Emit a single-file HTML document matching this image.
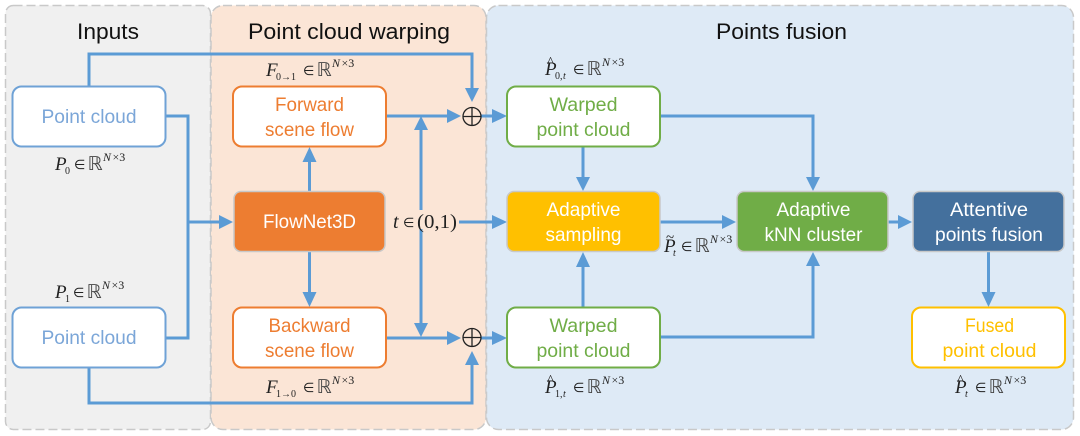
<!DOCTYPE html>
<html>
<head>
<meta charset="utf-8">
<style>
html,body{margin:0;padding:0;background:#fff;width:1080px;height:436px;overflow:hidden}
svg{display:block}
.t{font-family:"Liberation Sans",sans-serif;text-anchor:middle}
.title{font-size:22px;fill:#111}
.lab{font-size:19.5px}
.m{font-family:"Liberation Serif",serif;fill:#222}
.i{font-style:italic}
.l{stroke:#5b9bd5;stroke-width:3;fill:none}
.a{fill:#5b9bd5}
</style>
</head>
<body>
<svg width="1080" height="436" viewBox="0 0 1080 436" xmlns="http://www.w3.org/2000/svg">
<defs>
<g id="elem">
<text class="m" font-size="13" x="0" y="-1">∈</text>
<text font-family="DejaVu Sans,sans-serif" font-size="19" fill="#444" x="13.500" y="0">ℝ</text>
<text class="m i" font-size="12" x="29" y="-9">N</text>
<text class="m" font-size="12" x="38.500" y="-9">×3</text>
</g>
</defs>

<!-- panels -->
<rect x="5.5" y="5.5" width="205" height="424" rx="8" fill="#f0f0f0" stroke="#c9c9c9" stroke-width="1.5" stroke-dasharray="9 4"/>
<rect x="211" y="5.5" width="275" height="424" rx="12" fill="#fbe5d6" stroke="#c9c9c9" stroke-width="1.5" stroke-dasharray="9 4"/>
<rect x="486.5" y="5.5" width="587" height="424" rx="12" fill="#deeaf6" stroke="#c9c9c9" stroke-width="1.5" stroke-dasharray="9 4"/>

<!-- titles -->
<text class="t title" x="108" y="39" textLength="62" lengthAdjust="spacingAndGlyphs">Inputs</text>
<text class="t title" x="349" y="39" textLength="202" lengthAdjust="spacingAndGlyphs">Point cloud warping</text>
<text class="t title" x="781.5" y="39" textLength="131" lengthAdjust="spacingAndGlyphs">Points fusion</text>

<!-- connector lines -->
<path class="l" d="M89 86V54H472V90"/>
<path class="l" d="M89 368V403H472V364"/>
<path class="l" d="M165 116H188V338H165"/>
<path class="l" d="M188 222H220"/>
<path class="l" d="M386 116H449"/>
<path class="l" d="M386 338H449"/>
<path class="l" d="M481 116H494"/>
<path class="l" d="M481 338H494"/>
<path class="l" d="M421 128V210"/>
<path class="l" d="M421 229V325"/>
<path class="l" d="M459 222H494"/>
<path class="l" d="M309.500 192V160"/>
<path class="l" d="M309.500 251V294"/>
<path class="l" d="M660 116H813V179"/>
<path class="l" d="M660 337H813V265"/>
<path class="l" d="M583 147V179"/>
<path class="l" d="M583 307V265"/>
<path class="l" d="M660 222H724"/>
<path class="l" d="M888 222H900"/>
<path class="l" d="M988.500 251V294"/>

<!-- arrowheads -->
<path class="a" d="M465 88H479L472 102Z"/>
<path class="a" d="M465 365H479L472 351Z"/>
<path class="a" d="M219 215V229L233 222Z"/>
<path class="a" d="M447 109V123L461 116Z"/>
<path class="a" d="M447 331V345L461 338Z"/>
<path class="a" d="M492 109V123L507 116Z"/>
<path class="a" d="M492 331V345L507 338Z"/>
<path class="a" d="M414 130H428L421 116Z"/>
<path class="a" d="M414 323H428L421 337Z"/>
<path class="a" d="M492 215V229L507 222Z"/>
<path class="a" d="M302.500 162H316.500L309.500 147Z"/>
<path class="a" d="M302.500 292H316.500L309.500 307Z"/>
<path class="a" d="M806 177H820L813 191Z"/>
<path class="a" d="M806 266H820L813 252Z"/>
<path class="a" d="M576 177H590L583 191Z"/>
<path class="a" d="M576 267H590L583 252Z"/>
<path class="a" d="M722 215V229L736 222Z"/>
<path class="a" d="M898 215V229L912 222Z"/>
<path class="a" d="M981.500 292H995.500L988.500 307Z"/>

<!-- oplus -->
<g fill="none" stroke="#222" stroke-width="1.3">
<circle cx="472" cy="116.500" r="9"/><path d="M463 116.500H481M472 107.500V125.500"/>
<circle cx="472" cy="337.500" r="9"/><path d="M463 337.500H481M472 328.500V346.500"/>
</g>

<!-- boxes -->
<g stroke-width="2">
<rect x="12.500" y="86.500" width="153" height="60" rx="9" fill="#fff" stroke="#6fa2d6"/>
<rect x="12.500" y="307.500" width="153" height="60" rx="9" fill="#fff" stroke="#6fa2d6"/>
<rect x="233" y="86.500" width="153" height="60" rx="9" fill="#fff" stroke="#ed7d31"/>
<rect x="233" y="307.500" width="153" height="60" rx="9" fill="#fff" stroke="#ed7d31"/>
<rect x="507" y="86.500" width="153" height="60" rx="9" fill="#fff" stroke="#70ad47"/>
<rect x="507" y="307.500" width="153" height="60" rx="9" fill="#fff" stroke="#70ad47"/>
<rect x="912" y="307.500" width="153" height="60" rx="9" fill="#fff" stroke="#ffc000"/>
</g>
<g stroke="#c8c8c8" stroke-width="1.500">
<rect x="234" y="191.500" width="151" height="60" rx="7" fill="#ed7d31"/>
<rect x="507" y="191.500" width="153" height="60" rx="7" fill="#ffc000"/>
<rect x="737" y="191.500" width="151" height="60" rx="7" fill="#70ad47"/>
<rect x="913" y="191.500" width="151" height="60" rx="7" fill="#44709d"/>
</g>

<!-- box labels -->
<g class="t lab">
<text x="89" y="123" fill="#7ba6d8" textLength="95" lengthAdjust="spacingAndGlyphs">Point cloud</text>
<text x="89" y="344" fill="#7ba6d8" textLength="95" lengthAdjust="spacingAndGlyphs">Point cloud</text>
<text x="309.500" y="111" fill="#ed7d31" textLength="69" lengthAdjust="spacingAndGlyphs">Forward</text>
<text x="309.500" y="136" fill="#ed7d31" textLength="89" lengthAdjust="spacingAndGlyphs">scene flow</text>
<text x="309.500" y="332" fill="#ed7d31" textLength="82" lengthAdjust="spacingAndGlyphs">Backward</text>
<text x="309.500" y="357" fill="#ed7d31" textLength="89" lengthAdjust="spacingAndGlyphs">scene flow</text>
<text x="309.500" y="228" fill="#fff" textLength="93" lengthAdjust="spacingAndGlyphs">FlowNet3D</text>
<text x="583.500" y="111" fill="#70ad47" textLength="68" lengthAdjust="spacingAndGlyphs">Warped</text>
<text x="583.500" y="136" fill="#70ad47" textLength="94" lengthAdjust="spacingAndGlyphs">point cloud</text>
<text x="583.500" y="332" fill="#70ad47" textLength="68" lengthAdjust="spacingAndGlyphs">Warped</text>
<text x="583.500" y="357" fill="#70ad47" textLength="94" lengthAdjust="spacingAndGlyphs">point cloud</text>
<text x="583.500" y="216" fill="#fff" textLength="74" lengthAdjust="spacingAndGlyphs">Adaptive</text>
<text x="583.500" y="241" fill="#fff" textLength="76" lengthAdjust="spacingAndGlyphs">sampling</text>
<text x="813.500" y="216" fill="#fff" textLength="74" lengthAdjust="spacingAndGlyphs">Adaptive</text>
<text x="813.500" y="241" fill="#fff" textLength="98" lengthAdjust="spacingAndGlyphs">kNN cluster</text>
<text x="989" y="216" fill="#fff" textLength="78" lengthAdjust="spacingAndGlyphs">Attentive</text>
<text x="989" y="241" fill="#fff" textLength="108" lengthAdjust="spacingAndGlyphs">points fusion</text>
<text x="989.500" y="332" fill="#ffc000" textLength="49" lengthAdjust="spacingAndGlyphs">Fused</text>
<text x="989.500" y="357" fill="#ffc000" textLength="94" lengthAdjust="spacingAndGlyphs">point cloud</text>
</g>

<!-- math labels -->
<g>
<text class="m i" font-size="19" x="55" y="170">P</text>
<text class="m" font-size="10" x="65" y="174">0</text>
<use href="#elem" x="74" y="170"/>

<text class="m i" font-size="19" x="55" y="298">P</text>
<text class="m" font-size="10" x="65" y="302">1</text>
<use href="#elem" x="73" y="298"/>

<text class="m i" font-size="19" x="266" y="76">F</text>
<text class="m" font-size="10" x="276" y="80">0→1</text>
<use href="#elem" x="303" y="76"/>

<text class="m i" font-size="19" x="266" y="393">F</text>
<text class="m" font-size="10" x="276" y="397">1→0</text>
<use href="#elem" x="303" y="393"/>

<text class="m i" font-size="19" x="545" y="75">P</text>
<text class="m" font-size="15" x="547" y="67">^</text>
<text class="m" font-size="10" x="555" y="79">0,</text>
<text class="m i" font-size="10" x="563" y="79">t</text>
<use href="#elem" x="573" y="75"/>

<text class="m i" font-size="19" x="545" y="393">P</text>
<text class="m" font-size="15" x="547" y="385">^</text>
<text class="m" font-size="10" x="555" y="397">1,</text>
<text class="m i" font-size="10" x="563" y="397">t</text>
<use href="#elem" x="573" y="393"/>

<text class="m i" font-size="19" x="955" y="393">P</text>
<text class="m" font-size="15" x="957" y="385">^</text>
<text class="m i" font-size="10" x="965" y="397">t</text>
<use href="#elem" x="975" y="393"/>

<text class="m i" font-size="19" x="664" y="252">P</text>
<text class="m" font-size="15" x="666" y="242">~</text>
<text class="m i" font-size="10" x="673" y="256">t</text>
<use href="#elem" x="681" y="252"/>

<text class="m i" font-size="20" x="393" y="228">t</text>
<text class="m" font-size="13" x="403" y="227">∈</text>
<text class="m" font-size="20" x="417" y="228" textLength="40" lengthAdjust="spacingAndGlyphs">(0,1)</text>
</g>
</svg>
</body>
</html>
